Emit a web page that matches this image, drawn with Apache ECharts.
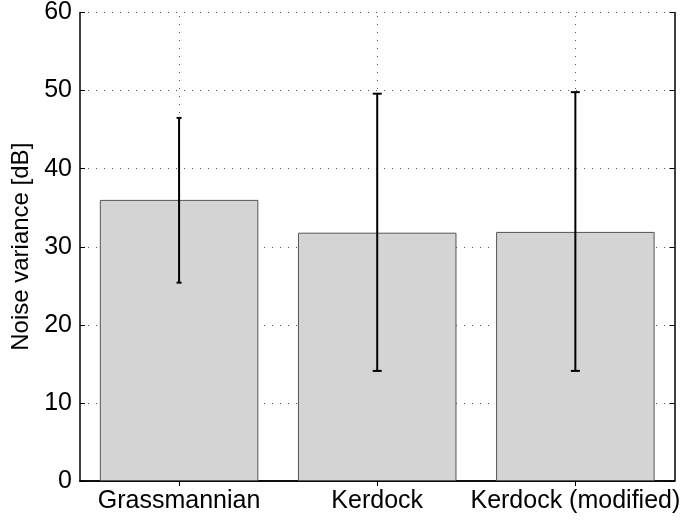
<!DOCTYPE html>
<html>
<head>
<meta charset="utf-8">
<script src="https://cdn.jsdelivr.net/npm/echarts@6/dist/echarts.min.js"></script>
<style>
  html, body { margin: 0; padding: 0; background: #fff; }
  #chart { width: 683px; height: 520px; }
</style>
</head>
<body>
<div id="chart"></div>
<script>
// Codebook comparison: mean noise variance with error ranges
const categories = ['Grassmannian', 'Kerdock', 'Kerdock (modified)'];
const meanValues = [36.0, 31.8, 31.9];
const lowValues  = [25.4, 14.1, 14.1];
const highValues = [46.5, 49.6, 49.8];
const yTicks = [0, 10, 20, 30, 40, 50, 60];

// Cap half-widths (px) of the error-bar whiskers
const capHalfWidth = [2.5, 4.5, 4.5];

const FONT = '"Liberation Sans", Arial, Helvetica, sans-serif';
const gridDots = { color: '#555', width: 1, type: [1, 7] };

const errorData = categories.map((c, i) => [i, lowValues[i], highValues[i]]);

const chart = echarts.init(document.getElementById('chart'), null, { renderer: 'canvas' });

chart.setOption({
  animation: false,
  backgroundColor: '#fff',
  grid: { left: 80, right: 7, top: 11, bottom: 39, containLabel: false },
  xAxis: [
    {
      type: 'category',
      data: categories,
      boundaryGap: true,
      axisLine: { show: true, lineStyle: { color: '#000', width: 1.5 } },
      axisTick: { show: true, inside: true, alignWithLabel: true, length: 5, lineStyle: { color: '#000' } },
      axisLabel: { color: '#000', fontFamily: FONT, fontSize: 25, margin: 8, interval: 0, hideOverlap: false },
      splitLine: { show: false }
    },
    {
      type: 'category',
      data: categories,
      position: 'top',
      boundaryGap: true,
      axisLine: { show: true, lineStyle: { color: '#000', width: 1.5 } },
      axisTick: { show: true, inside: true, alignWithLabel: true, length: 5, lineStyle: { color: '#000' } },
      axisLabel: { show: false },
      splitLine: { show: false }
    }
  ],
  yAxis: [
    {
      type: 'value',
      min: 0, max: 60, interval: 10,
      name: 'Noise variance [dB]',
      nameLocation: 'middle',
      nameGap: 44,
      nameTextStyle: { color: '#000', fontFamily: FONT, fontSize: 24 },
      axisLine: { show: true, lineStyle: { color: '#000', width: 1.5 } },
      axisTick: { show: true, inside: true, length: 5, lineStyle: { color: '#000' } },
      axisLabel: {
        color: '#000', fontFamily: FONT, fontSize: 25, margin: 8,
        formatter: v => (yTicks.includes(v) ? String(v) : '')
      },
      splitLine: { show: true, lineStyle: gridDots }
    },
    {
      type: 'value',
      min: 0, max: 60, interval: 10,
      position: 'right',
      axisLine: { show: true, lineStyle: { color: '#000', width: 1.5 } },
      axisTick: { show: true, inside: true, length: 5, lineStyle: { color: '#000' } },
      axisLabel: { show: false },
      splitLine: { show: false }
    }
  ],
  series: [
    {
      type: 'bar',
      data: meanValues,
      barWidth: '80%',
      z: 2,
      itemStyle: { color: '#d4d4d4', borderColor: '#555', borderWidth: 1 },
      markLine: {
        silent: true,
        symbol: ['none', 'none'],
        label: { show: false },
        lineStyle: gridDots,
        z: 1,
        data: categories.map(c => ({ xAxis: c }))
      }
    },
    {
      type: 'custom',
      z: 5,
      data: errorData,
      renderItem: function (params, api) {
        const idx = api.value(0);
        const lo = api.coord([idx, api.value(1)]);
        const hi = api.coord([idx, api.value(2)]);
        const hw = capHalfWidth[params.dataIndex];
        const style = { stroke: '#000', lineWidth: 2 };
        return {
          type: 'group',
          children: [
            { type: 'line', shape: { x1: hi[0], y1: hi[1], x2: lo[0], y2: lo[1] }, style },
            { type: 'line', shape: { x1: hi[0] - hw, y1: hi[1], x2: hi[0] + hw, y2: hi[1] }, style },
            { type: 'line', shape: { x1: lo[0] - hw, y1: lo[1], x2: lo[0] + hw, y2: lo[1] }, style }
          ]
        };
      }
    }
  ]
});
</script>
</body>
</html>
